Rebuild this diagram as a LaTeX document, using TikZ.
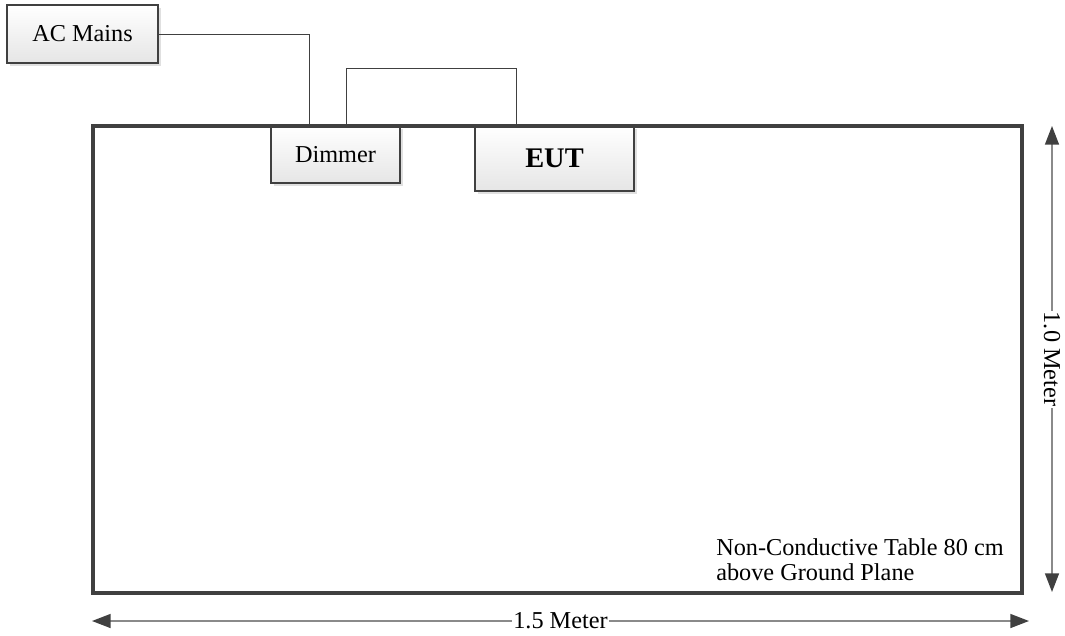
\documentclass[tikz,border=0pt]{standalone}
\usepackage{fontspec}
\setmainfont{Liberation Serif}
\usetikzlibrary{arrows.meta,shadows}
\definecolor{edge}{HTML}{404040}
\definecolor{dimline}{HTML}{8A8A8A}
\tikzset{
  box/.style={draw=edge, line width=1.3pt, inner sep=0pt, outer sep=0pt,
    top color=white, bottom color=black!10,
    drop shadow={shadow xshift=2.25pt, shadow yshift=-2.25pt, fill=black!12, opacity=1},
    font=\fontsize{18.2}{21}\selectfont},
  table/.style={draw=edge, line width=2.4pt, inner sep=0pt, outer sep=0pt},
  wire/.style={draw=edge, line width=0.7pt},
  dimarrow/.style={draw=dimline, line width=1.1pt,
    {Triangle[length=14pt,width=10.5pt,color=edge]}-{Triangle[length=14pt,width=10.5pt,color=edge]}},
  dimlabel/.style={fill=white, inner sep=1pt, font=\fontsize{18.2}{21}\selectfont},
  note/.style={align=left, anchor=north west, inner sep=0pt, font=\fontsize{18.2}{19}\selectfont}
}
\begin{document}
\begin{tikzpicture}[x=0.75pt,y=-0.75pt]
\useasboundingbox (0,0) rectangle (1065,636);
\node[box, minimum width=113.25pt, minimum height=43.5pt] (ac) at (82.5,34) {AC Mains};
\node[box, minimum width=96.75pt, minimum height=42.75pt] (dimmer) at (335.5,154.5) {Dimmer};
\node[box, minimum width=119.25pt, minimum height=48.75pt, font=\fontsize{21.3}{24}\selectfont\bfseries] (eut) at (554.5,158.5) {EUT};
\node[table, minimum width=696.75pt, minimum height=350.25pt] (tbl) at (557.5,359.5) {};
\coordinate (d1) at ([xshift=28.5pt]dimmer.north west);
\coordinate (d2) at ([xshift=56.25pt]dimmer.north west);
\coordinate (e1) at ([xshift=30.75pt]eut.north west);
\coordinate (t1) at (346,68);
\coordinate (t2) at (516,68);
\draw[wire] (ac.east) -| (d1);
\draw[wire] (d2) -- (t1) -- (t2) -- (e1);
\coordinate (vtop) at (1052,126);
\coordinate (vbot) at (1052,592);
\coordinate (hl) at (92,621);
\coordinate (hr) at (1029,621);
\draw[dimarrow] (vtop) -- (vbot) node[midway, dimlabel, rotate=-90] (vlab) {1.0 Meter};
\draw[dimarrow] (hl) -- (hr) node[midway, dimlabel] (hlab) {1.5 Meter};
\node[note] (nt) at (716,538.5) {Non-Conductive Table 80 cm\\above Ground Plane};
\end{tikzpicture}
\end{document}
